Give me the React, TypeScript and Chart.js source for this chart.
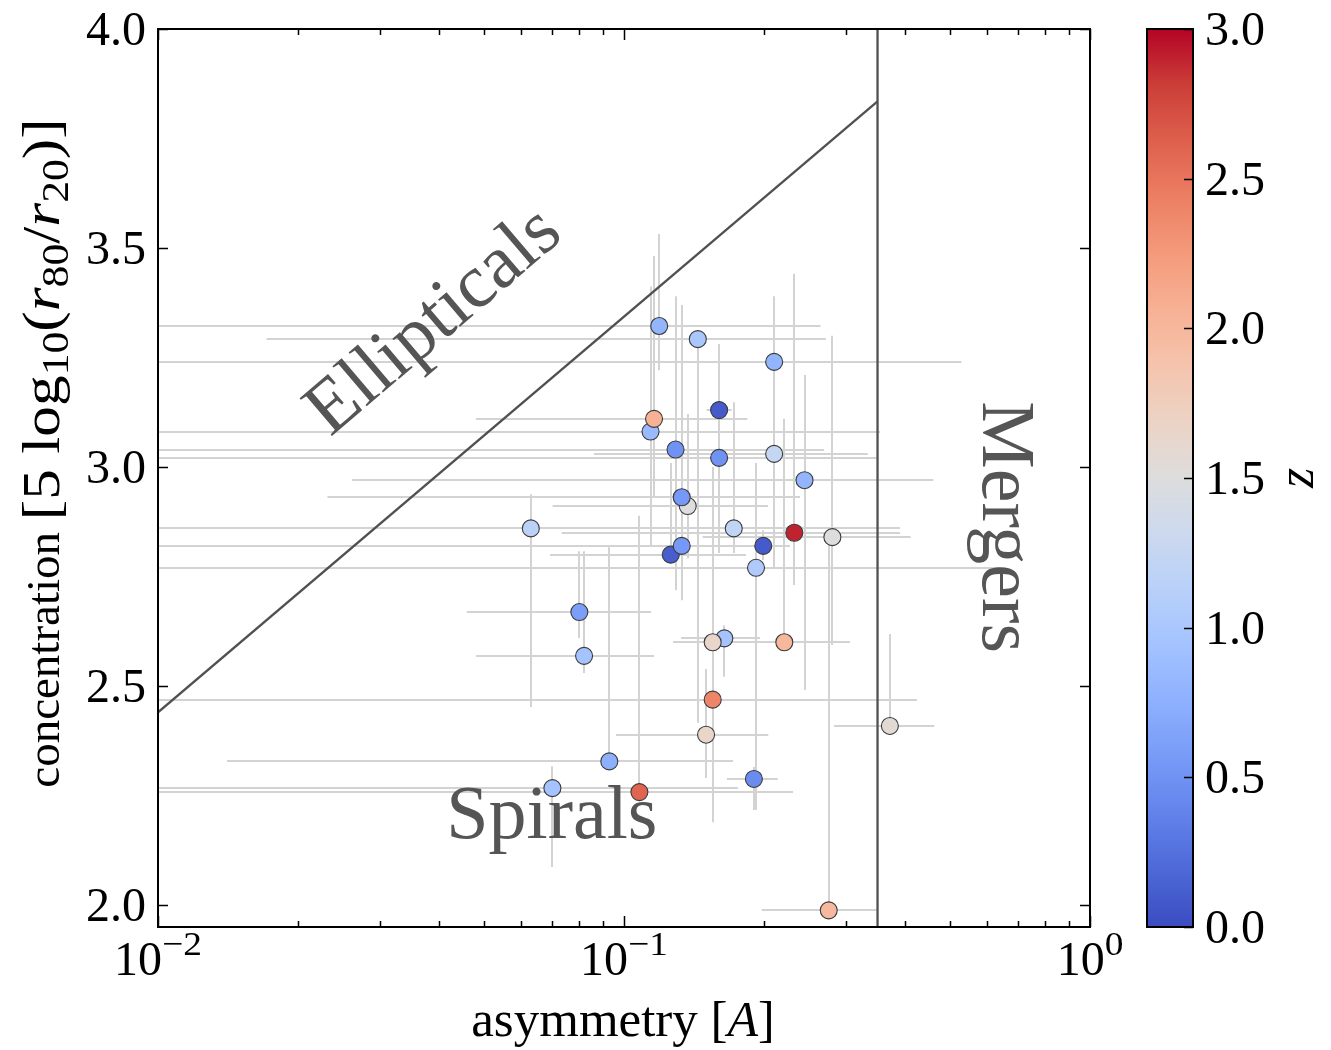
import React, { useEffect, useRef } from "react";
import { Chart, registerables } from "chart.js";

Chart.register(...registerables);

// ---------------- data ----------------
const asymmetry = [0.119, 0.144, 0.21, 0.16, 0.114, 0.116, 0.129, 0.16, 0.21, 0.244, 0.137, 0.133, 0.0631, 0.172, 0.232, 0.28, 0.126, 0.133, 0.199, 0.192, 0.0802, 0.0821, 0.093, 0.0702, 0.1079, 0.1642, 0.155, 0.2208, 0.155, 0.15, 0.19, 0.372, 0.275];
const concentration = [3.322, 3.292, 3.24, 3.13, 3.081, 3.11, 3.04, 3.021, 3.03, 2.97, 2.911, 2.931, 2.86, 2.86, 2.85, 2.84, 2.8, 2.82, 2.82, 2.77, 2.669, 2.569, 2.328, 2.267, 2.258, 2.609, 2.6, 2.6, 2.469, 2.389, 2.288, 2.409, 1.988];
const redshift = [0.8, 1.0, 0.8, 0.1, 0.85, 2.05, 0.5, 0.5, 1.25, 0.8, 1.5, 0.55, 1.15, 1.2, 2.9, 1.5, 0.12, 0.55, 0.1, 1.05, 0.6, 0.95, 0.75, 0.95, 2.6, 0.95, 1.65, 2.0, 2.4, 1.65, 0.45, 1.58, 1.98];
const asymLow = [0.005, 0.0171, 0.005, 0.1504, 0.005, 0.0481, 0.005, 0.005, 0.0862, 0.0261, 0.0703, 0.0231, 0.005, 0.098, 0.0735, 0.1475, 0.0694, 0.005, 0.1774, 0.005, 0.046, 0.0481, 0.01406, 0.005, 0.005, 0.1326, 0.1274, 0.1774, 0.005, 0.0961, 0.1663, 0.2823, 0.1975];
const asymHigh = [0.264, 0.271, 0.53, 0.1703, 0.3543, 0.1839, 0.2687, 0.3486, 0.3334, 0.461, 0.2037, 0.2386, 0.1774, 0.391, 0.391, 0.4122, 0.1827, 0.1827, 0.2271, 0.641, 0.1143, 0.116, 0.1714, 0.1756, 0.2305, 0.1958, 0.2271, 0.3055, 0.4253, 0.204, 0.2137, 0.4634, 0.3497];
const concLow = [3.221, 2.416, 3.084, 2.993, 2.822, 2.932, 2.719, 2.804, 2.772, 2.491, 2.792, 2.696, 2.452, 2.804, 2.731, 2.594, 2.788, 2.719, 2.788, 2.217, 2.61, 2.53, 2.32, 2.087, 2.24, 2.521, 2.468, 2.594, 2.189, 2.29, 2.217, 2.4, 1.988];
const concHigh = [3.532, 3.31, 3.39, 3.281, 3.412, 3.482, 3.39, 3.107, 3.153, 3.21, 3.121, 3.37, 2.938, 3.148, 3.441, 3.3, 3.009, 2.925, 2.856, 3.009, 2.808, 2.808, 2.817, 2.317, 2.889, 2.639, 3.0, 3.11, 2.696, 2.539, 2.315, 2.619, 2.833];

const yTickValues = [2.0, 2.5, 3.0, 3.5, 4.0];
const yTickLabels = ["2.0", "2.5", "3.0", "3.5", "4.0"];
const xTickValues = [0.01, 0.1, 1];
const xTickExponents = ["\u22122", "\u22121", "0"];
const zTickValues = [0, 0.5, 1.0, 1.5, 2.0, 2.5, 3.0];
const zTickLabels = ["0.0", "0.5", "1.0", "1.5", "2.0", "2.5", "3.0"];
const zRange = [0, 3];
const xRange = [0.01, 1];
const yRange = [1.95, 4.0];

const boundaryA = [0.01, 0.35];
const boundaryC = [2.44, 3.835];
const mergerA = [0.35, 0.35];
const mergerC = [1.95, 4.0];

const regionLabels = ["Ellipticals", "Spirals", "Mergers"];
const regionA = [0.0418, 0.07, 0.5893];
const regionC = [3.296, 2.153, 2.863];
const regionAngleDeg = [-40.5, 0, 90];

// ---------------- colormap (coolwarm) ----------------
const COOLWARM = [
  [59, 76, 192], [77, 104, 215], [98, 130, 234], [119, 154, 247], [141, 176, 254],
  [163, 194, 255], [184, 208, 249], [204, 217, 238], [221, 221, 221], [236, 211, 197],
  [245, 196, 173], [247, 177, 148], [244, 154, 123], [236, 127, 99], [222, 96, 77],
  [203, 62, 56], [180, 4, 38],
];
function coolwarm(t: number): string {
  const tt = Math.max(0, Math.min(1, t));
  const n = COOLWARM.length - 1;
  const f = tt * n;
  const i = Math.min(n - 1, Math.floor(f));
  const r = f - i;
  const a = COOLWARM[i], b = COOLWARM[i + 1];
  const c = [0, 1, 2].map((k) => Math.round(a[k] + (b[k] - a[k]) * r));
  return `rgb(${c[0]},${c[1]},${c[2]})`;
}

// ---------------- text helpers ----------------
const FONT = '"Liberation Serif", "Times New Roman", serif';
type Seg = { t: string; size: number; italic?: boolean; dy?: number; sx?: number };

function fontOf(s: Seg) {
  return `${s.italic ? "italic " : ""}${s.size}px ${FONT}`;
}
function segsWidth(ctx: CanvasRenderingContext2D, segs: Seg[]) {
  let w = 0;
  for (const s of segs) {
    ctx.font = fontOf(s);
    w += ctx.measureText(s.t).width * (s.sx || 1);
  }
  return w;
}
function drawSegs(ctx: CanvasRenderingContext2D, segs: Seg[], x: number, y: number, align: string) {
  const W = segsWidth(ctx, segs);
  let cx = align === "center" ? x - W / 2 : align === "right" ? x - W : x;
  ctx.textAlign = "left";
  ctx.textBaseline = "alphabetic";
  for (const s of segs) {
    ctx.font = fontOf(s);
    const w = ctx.measureText(s.t).width * (s.sx || 1);
    ctx.save();
    ctx.translate(cx, y + (s.dy || 0));
    ctx.scale(s.sx || 1, 1);
    ctx.fillText(s.t, 0, 0);
    ctx.restore();
    cx += w;
  }
}

// ---------------- plugin ----------------
const decorPlugin = {
  id: "decor",
  beforeDatasetsDraw(chart: any) {
    const { ctx, chartArea: a, scales } = chart;
    const xs = scales.x, ys = scales.y;
    ctx.save();
    ctx.beginPath();
    ctx.rect(a.left, a.top, a.right - a.left, a.bottom - a.top);
    ctx.clip();
    ctx.strokeStyle = "#d3d3d3";
    ctx.lineWidth = 2;
    for (let i = 0; i < asymmetry.length; i++) {
      const px = Math.round(xs.getPixelForValue(asymmetry[i]));
      const py = Math.round(ys.getPixelForValue(concentration[i]));
      ctx.beginPath();
      ctx.moveTo(xs.getPixelForValue(asymLow[i]), py);
      ctx.lineTo(xs.getPixelForValue(asymHigh[i]), py);
      ctx.moveTo(px, ys.getPixelForValue(concLow[i]));
      ctx.lineTo(px, ys.getPixelForValue(concHigh[i]));
      ctx.stroke();
    }
    // region labels
    ctx.fillStyle = "#555555";
    for (let i = 0; i < regionLabels.length; i++) {
      ctx.save();
      ctx.translate(xs.getPixelForValue(regionA[i]), ys.getPixelForValue(regionC[i]));
      ctx.rotate((regionAngleDeg[i] * Math.PI) / 180);
      drawSegs(ctx, [{ t: regionLabels[i], size: 76 }], 0, 0, "center");
      ctx.restore();
    }
    ctx.restore();
  },
  afterDraw(chart: any) {
    const { ctx, chartArea: a, scales } = chart;
    const xs = scales.x, ys = scales.y;
    ctx.save();
    // frame
    ctx.strokeStyle = "#000";
    ctx.lineWidth = 2;
    ctx.strokeRect(a.left, a.top, a.right - a.left, a.bottom - a.top);
    // y ticks
    ctx.lineWidth = 1.5;
    ctx.beginPath();
    for (const v of yTickValues) {
      const py = Math.round(ys.getPixelForValue(v)) + 0.5;
      ctx.moveTo(a.left, py); ctx.lineTo(a.left + 10, py);
      ctx.moveTo(a.right, py); ctx.lineTo(a.right - 10, py);
    }
    // x ticks
    for (const v of xTickValues) {
      const px = Math.round(xs.getPixelForValue(v)) + 0.5;
      ctx.moveTo(px, a.bottom); ctx.lineTo(px, a.bottom - 11);
      ctx.moveTo(px, a.top); ctx.lineTo(px, a.top + 11);
    }
    for (let d = 0; d < xTickValues.length - 1; d++) {
      for (let k = 2; k <= 9; k++) {
        const px = Math.round(xs.getPixelForValue(xTickValues[d] * k)) + 0.5;
        ctx.moveTo(px, a.bottom); ctx.lineTo(px, a.bottom - 6);
        ctx.moveTo(px, a.top); ctx.lineTo(px, a.top + 6);
      }
    }
    ctx.stroke();

    ctx.fillStyle = "#000";
    // y tick labels
    yTickValues.forEach((v, i) => {
      const py = ys.getPixelForValue(v);
      drawSegs(ctx, [{ t: yTickLabels[i], size: 48 }], a.left - 12, py + 16, "right");
    });
    // x tick labels
    xTickValues.forEach((v, i) => {
      const px = xs.getPixelForValue(v);
      drawSegs(ctx, [{ t: "10", size: 48 }, { t: xTickExponents[i], size: 34, dy: -20, sx: 1.1 }], px, a.bottom + 48, "center");
    });
    // x title
    drawSegs(ctx, [{ t: "asymmetry [", size: 50, sx: 1.02 }, { t: "A", size: 50, italic: true }, { t: "]", size: 50 }], (a.left + a.right) / 2 - 1, 1036, "center");
    // y title
    ctx.save();
    ctx.translate(59, 453);
    ctx.rotate(-Math.PI / 2);
    const m = 1.18;
    drawSegs(ctx, [
      { t: "concentration ", size: 47 },
      { t: "[5 log", size: 52, sx: m },
      { t: "10", size: 37, dy: 9, sx: m },
      { t: "(", size: 52, sx: m },
      { t: "r", size: 52, italic: true, sx: m },
      { t: "80", size: 37, dy: 9, sx: m },
      { t: "/", size: 52, sx: m },
      { t: "r", size: 52, italic: true, sx: m },
      { t: "20", size: 37, dy: 9, sx: m },
      { t: ")]", size: 52, sx: m },
    ], 0, 0, "center");
    ctx.restore();

    // colorbar
    const cbL = 1147, cbR = 1193, cbT = a.top, cbB = a.bottom;
    const grad = ctx.createLinearGradient(0, cbB, 0, cbT);
    COOLWARM.forEach((c, i) => grad.addColorStop(i / (COOLWARM.length - 1), `rgb(${c[0]},${c[1]},${c[2]})`));
    ctx.fillStyle = grad;
    ctx.fillRect(cbL, cbT, cbR - cbL, cbB - cbT);
    ctx.strokeStyle = "#000";
    ctx.lineWidth = 2;
    ctx.strokeRect(cbL, cbT, cbR - cbL, cbB - cbT);
    ctx.lineWidth = 1.5;
    ctx.beginPath();
    zTickValues.forEach((z) => {
      const py = Math.round(cbB - ((z - zRange[0]) / (zRange[1] - zRange[0])) * (cbB - cbT)) + 0.5;
      ctx.moveTo(cbR - 9, py); ctx.lineTo(cbR, py);
    });
    ctx.stroke();
    ctx.fillStyle = "#000";
    zTickValues.forEach((z, i) => {
      const py = cbB - ((z - zRange[0]) / (zRange[1] - zRange[0])) * (cbB - cbT);
      drawSegs(ctx, [{ t: zTickLabels[i], size: 48 }], cbR + 12, py + 16, "left");
    });
    ctx.save();
    ctx.translate(1313, (cbT + cbB) / 2);
    ctx.rotate(-Math.PI / 2);
    drawSegs(ctx, [{ t: "z", size: 52, italic: true }], 0, 0, "center");
    ctx.restore();
    ctx.restore();
  },
};

export default function App() {
  const ref = useRef<HTMLCanvasElement | null>(null);
  useEffect(() => {
    const canvas = ref.current;
    if (!canvas) return;
    const points = asymmetry.map((x, i) => ({ x, y: concentration[i] }));
    const chart = new Chart(canvas, {
      type: "scatter",
      data: {
        datasets: [
          {
            label: "galaxies",
            data: points,
            showLine: false,
            pointRadius: 8.5,
            pointHoverRadius: 8.5,
            pointBackgroundColor: redshift.map((z) => coolwarm((z - zRange[0]) / (zRange[1] - zRange[0]))),
            pointBorderColor: "#3a3a3a",
            pointBorderWidth: 1.1,
            order: 0,
          },
          {
            label: "ellipticals boundary",
            data: boundaryA.map((x, i) => ({ x, y: boundaryC[i] })),
            showLine: true,
            borderColor: "#505050",
            borderWidth: 2.3,
            pointRadius: 0,
            order: 1,
          },
          {
            label: "mergers boundary",
            data: mergerA.map((x, i) => ({ x, y: mergerC[i] })),
            showLine: true,
            borderColor: "#505050",
            borderWidth: 2.3,
            pointRadius: 0,
            order: 1,
          },
        ],
      } as any,
      options: {
        animation: false,
        responsive: false,
        devicePixelRatio: 1,
        layout: { padding: { top: 29, right: 241, left: 0, bottom: 0 } },
        plugins: { legend: { display: false }, tooltip: { enabled: false } },
        scales: {
          x: {
            type: "logarithmic",
            min: xRange[0],
            max: xRange[1],
            ticks: { display: false },
            grid: { display: false },
            border: { display: false },
            afterFit: (s: any) => { s.height = 123; },
          },
          y: {
            type: "linear",
            min: yRange[0],
            max: yRange[1],
            ticks: { display: false },
            grid: { display: false },
            border: { display: false },
            afterFit: (s: any) => { s.width = 158; },
          },
        },
      } as any,
      plugins: [decorPlugin],
    });
    return () => chart.destroy();
  }, []);
  return (
    <div style={{ position: "fixed", left: 0, top: 0, width: 1331, height: 1050, background: "#fff" }}>
      <canvas ref={ref} width={1331} height={1050} style={{ display: "block" }} />
    </div>
  );
}
